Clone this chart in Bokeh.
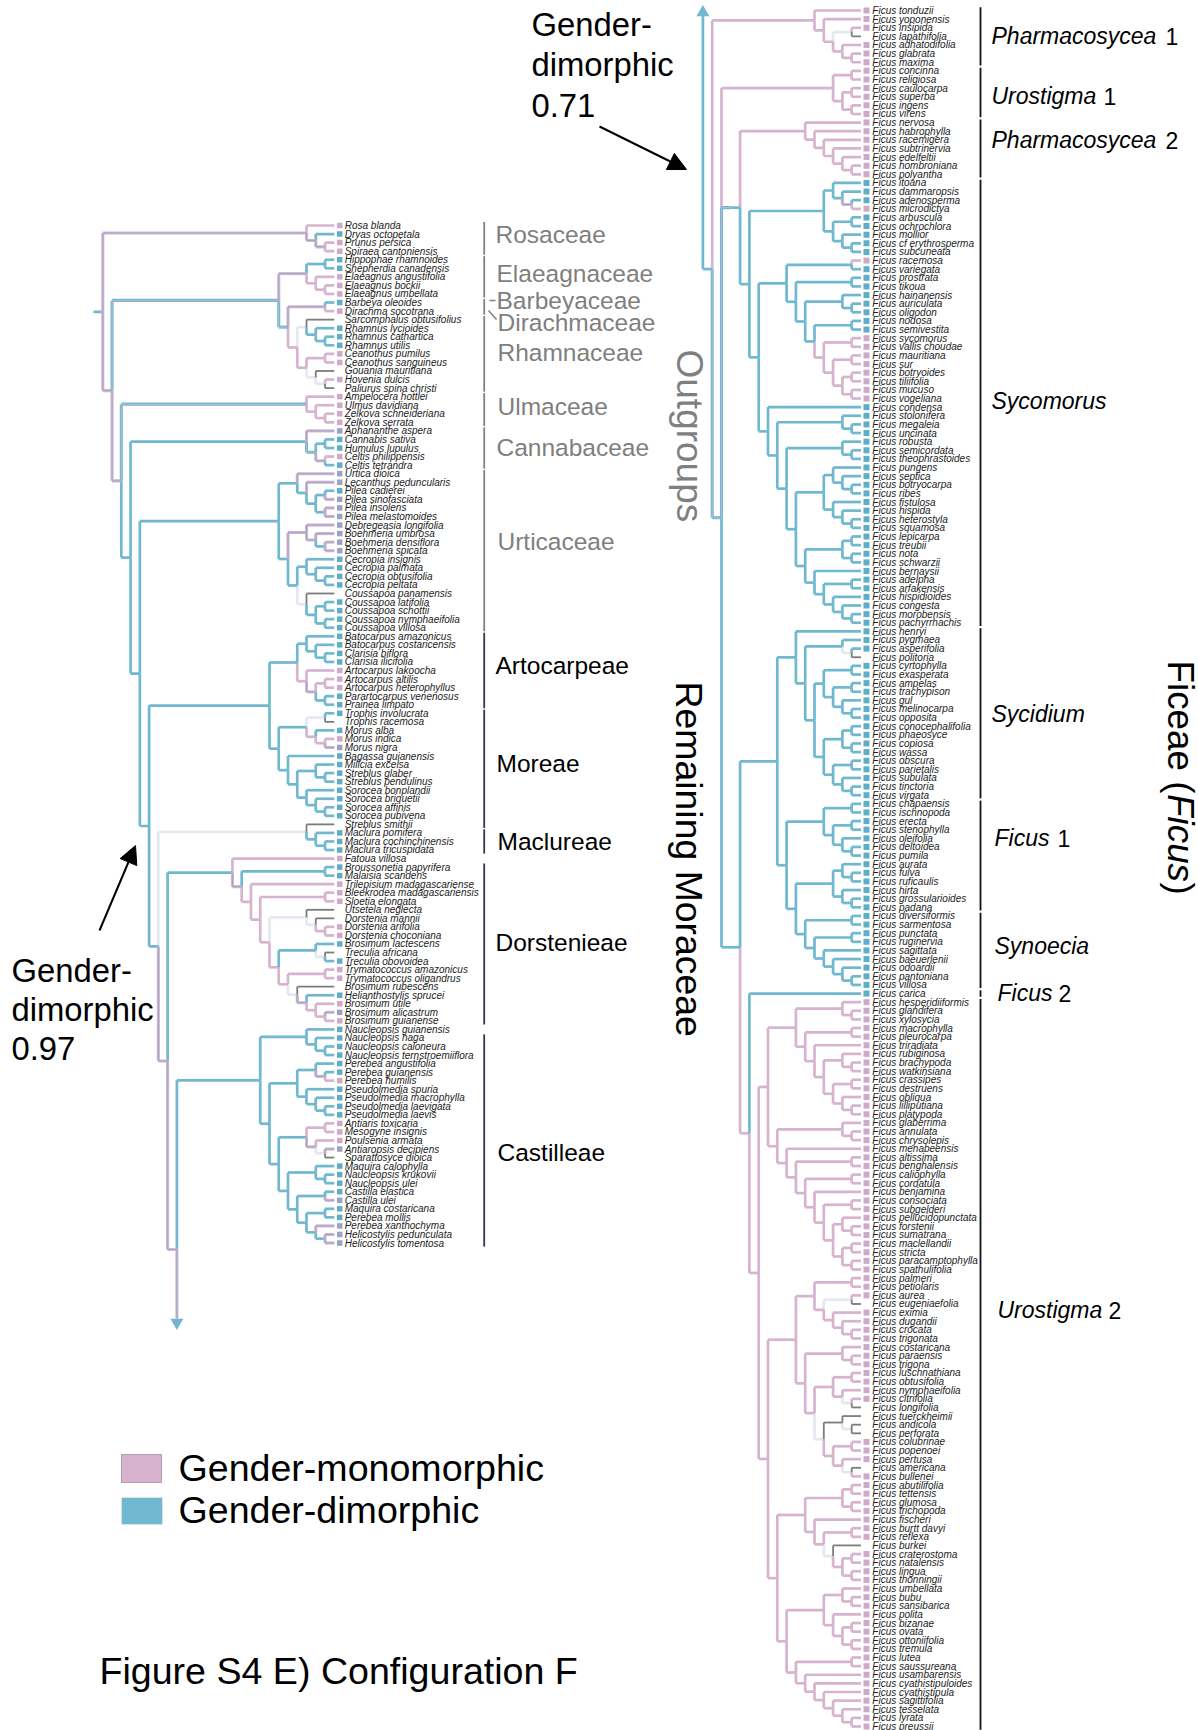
from math import pi
import numpy as np
from bokeh.plotting import figure
from bokeh.models import Range1d, Arrow, NormalHead
from bokeh.core.properties import value
from bokeh.embed import file_html
from bokeh.resources import INLINE

# ---------- DATA: trees (tip|state, node suffix: state, ^min height, #fixed y) ----------
# states: m monomorphic, d dimorphic, x pink/blue, y blue/pink, n pale (uncertain), g grey (no data)
ROSACEAE = "(Rosa blanda|m,(Dryas octopetala|d,(Prunus persica|m,Spiraea cantoniensis|m)x)x)x"
ELAEAG_RHAMN = ("(((Hippophae rhamnoides|d,Shepherdia canadensis|d),(Elaeagnus angustifolia|m,(Elaeagnus bockii|m,Elaeagnus umbellata|m)))x,"
                "((Barbeya oleoides|d,Dirachma socotrana|m)x,((Sarcomphalus obtusifolius|g,(Rhamnus lycioides|d,(Rhamnus cathartica|d,Rhamnus utilis|d)))n,"
                "((Ceanothus pumilus|m,Ceanothus sanguineus|m),(Gouania mauritiana|g,(Hovenia dulcis|m,Paliurus spina christi|g)n)n)m)m)y)y")
ULMACEAE = "(Ampelocera hottlei|m,(Ulmus davidiana|m,(Zelkova schneideriana|m,Zelkova serrata|m)))y"
CANNABACEAE = "(Aphananthe aspera|x,((Cannabis sativa|d,Humulus lupulus|d),(Celtis philippensis|m,Celtis tetrandra|d)x)y)d"
URTICACEAE = ("((Urtica dioica|x,(Lecanthus peduncularis|x,((Pilea cadierei|d,Pilea sinofasciata|x)d,(Pilea insolens|x,Pilea melastomoides|x)d)d)d)d,"
              "((Debregeasia longifolia|x,(Boehmeria umbrosa|x,(Boehmeria densiflora|x,Boehmeria spicata|x)d)x)x,"
              "((Cecropia insignis|d,(Cecropia palmata|d,(Cecropia obtusifolia|d,Cecropia peltata|d))),"
              "(Coussapoa panamensis|g,((Coussapoa latifolia|d,Coussapoa schottii|d),(Coussapoa nymphaeifolia|d,Coussapoa villosa|d)))n)d)d)d")
ARTO_MOREAE = ("(((Batocarpus amazonicus|d,(Batocarpus costaricensis|d,(Clarisia biflora|d,Clarisia ilicifolia|d))),"
               "(Artocarpus lakoocha|m,((Artocarpus altilis|m,Artocarpus heterophyllus|m),(Parartocarpus venenosus|d,Prainea limpato|d))x)m)d,"
               "(((Trophis involucrata|d,Trophis racemosa|g)n,(Morus alba|d,(Morus indica|m,Morus nigra|x)m)m)d,"
               "(Bagassa guianensis|d,((Milicia excelsa|d,(Streblus glaber|d,Streblus pendulinus|d)),"
               "(Sorocea bonplandii|d,(Sorocea briquetii|d,(Sorocea affinis|d,Sorocea pubivena|d))))))d)d")
MACLUREAE = "(Streblus smithii|g,(Maclura pomifera|d,(Maclura cochinchinensis|d,Maclura tricuspidata|d)))n"
DORSTENIEAE = ("(Fatoua villosa|m,((Broussonetia papyrifera|d,Malaisia scandens|d),(Trilepisium madagascariense|m,((Bleekrodea madagascariensis|m,Sloetia elongata|m),"
               "((Utsetela neglecta|g,(Dorstenia mannii|g,(Dorstenia arifolia|m,Dorstenia choconiana|m)m)n)n,"
               "((Brosimum lactescens|d,(Treculia africana|g,Treculia obovoidea|d)n)d,"
               "((Trymatococcus amazonicus|m,Trymatococcus oligandrus|m),(Brosimum rubescens|g,(Helianthostylis sprucei|d,(Brosimum utile|m,(Brosimum alicastrum|x,Brosimum guianense|m)m)m)x)n)m)m)m)m)m)x)d")
CASTILLEAE = ("((Naucleopsis guianensis|d,(Naucleopsis naga|d,(Naucleopsis caloneura|d,Naucleopsis ternstroemiiflora|d))),"
              "(((Perebea angustifolia|d,(Perebea guianensis|d,Perebea humilis|m)x)d,(Pseudolmedia spuria|d,(Pseudolmedia macrophylla|d,(Pseudolmedia laevigata|d,Pseudolmedia laevis|d))))d,"
              "(((Antiaris toxicaria|m,Mesogyne insignis|m)m,(Poulsenia armata|m,(Antiaropsis decipiens|x,Sparattosyce dioica|g)n)x)d,"
              "((Maquira calophylla|d,(Naucleopsis krukovii|d,Naucleopsis ulei|d)),((Castilla elastica|d,Castilla ulei|x)d,"
              "((Maquira costaricana|d,Perebea mollis|d),(Perebea xanthochyma|x,(Helicostylis pedunculata|x,Helicostylis tomentosa|x)d)d)d)d)d)d)d)d")
LEFT_TREE = (f"({ROSACEAE},({ELAEAG_RHAMN},({ULMACEAE},({CANNABACEAE},({URTICACEAE},({ARTO_MOREAE},({MACLUREAE},"
             f"({DORSTENIEAE},({CASTILLEAE})x^17#1249)x)d)d)d)d)x)x)y")

PHARM1 = ("(tonduzii|m,(yoponensis|m,((insipida|m,lapathifolia|g)n,(adhatodifolia|m,(glabrata|m,maxima|m)))m))m")
URO1 = "((concinna|m,religiosa|m),((caulocarpa|m,superba|m),(ingens|m,virens|m)))m"
PHARM2 = "(nervosa|m,(habrophylla|m,(racemigera|m,(subtrinervia|m,(edelfeltii|m,(hombroniana|m,polyantha|m))))))m"
SYCO_A = ("((itoana|d,(dammaropsis|d,(adenosperma|d,microdictya|m)x)d)d,((arbuscula|d,ochrochlora|d),(mollior|d,(cf erythrosperma|d,subcuneata|d))))d")
SYCO_B = ("((racemosa|m,variegata|d)d,((prostrata|d,tikoua|d),((hainanensis|d,(auriculata|d,oligodon|d)),((nodosa|d,semivestita|d),"
          "((sycomorus|m,vallis choudae|m),((mauritiana|m,sur|m),((botryoides|m,tiliifolia|m),(mucuso|m,vogeliana|m))))m)d)d)d)d")
SYCO_C = ("(condensa|d,((stolonifera|d,(megaleia|d,uncinata|d)),((robusta|d,(semicordata|d,theophrastoides|d)),"
          "(((pungens|d,(septica|d,(botryocarpa|d,ribes|d))),(fistulosa|d,(hispida|d,(heterostyla|d,squamosa|d)))),"
          "(((lepicarpa|d,treubii|d),(nota|d,schwarzii|d)),(bernaysii|d,((adelpha|d,arfakensis|d),(hispidioides|d,(congesta|d,(morobensis|d,pachyrrhachis|d)))))))))))")
SYCOMORUS = f"({SYCO_A},({SYCO_B},{SYCO_C})d)d"
SYCIDIUM = ("(henryi|d,((pygmaea|d,(asperifolia|d,politoria|g)n)d,(((cyrtophylla|d,exasperata|d),((ampelas|d,trachypison|d),(gul|d,(melinocarpa|d,opposita|d)))),"
            "(((conocephalifolia|d,phaeosyce|d),(copiosa|d,wassa|d)),((obscura|d,parietalis|d),(subulata|d,(tinctoria|d,virgata|d)))))))")
FICUS_SYN = ("(((chapaensis|d,ischnopoda|d),((erecta|d,stenophylla|d),(oleifolia|d,(deltoidea|d,pumila|d)))),"
             "(((aurata|d,(fulva|d,ruficaulis|d)),(hirta|d,(grossularioides|d,padana|d))),"
             "((diversiformis|d,sarmentosa|d),((punctata|d,ruginervia|d),(sagittata|d,(baeuerlenii|d,(odoardii|d,(pantoniana|d,villosa|d))))))))")
URO2_A = ("((hesperidiiformis|m,(glandifera|m,xylosycia|m)),((macrophylla|m,pleurocarpa|m),(triradiata|m,((rubiginosa|m,(brachypoda|m,watkinsiana|m)),"
          "((crassipes|m,destruens|m),(obliqua|m,(lilliputiana|m,platypoda|m)))))))")
URO2_B = ("((glaberrima|m,(annulata|m,chrysolepis|m)),(menabeensis|m,((altissima|m,benghalensis|m),((caliophylla|m,cordatula|m),(benjamina|m,"
          "((consociata|m,subgelderi|m),((pellucidopunctata|m,(forstenii|m,sumatrana|m)),((maclellandii|m,stricta|m),(paracamptophylla|m,spathulifolia|m)))))))))")
URO2_C = ("(((palmeri|m,petiolaris|m),((aurea|m,eugeniaefolia|g)n,(eximia|m,(dugandii|m,(crocata|m,trigonata|m))))m)m,"
          "((costaricana|m,(paraensis|m,trigona|m)),(((luschnathiana|m,obtusifolia|m),(nymphaeifolia|m,(citrifolia|m,longifolia|g)n)m)m,"
          "((tuerckheimii|g,(andicola|g,perforata|g))g,((colubrinae|m,popenoei|m),(pertusa|m,(americana|g,bullenei|m)n)m)m)n)m)m)")
URO2_D = ("(((((abutilifolia|m,tettensis|m),(glumosa|m,trichopoda|m)),(fischeri|m,((burtt davyi|m,reflexa|m),(burkei|g,((craterostoma|m,natalensis|m),(lingua|m,thonningii|m)))n)m)),"
          "(((umbellata|m,(bubu|m,sansibarica|m)),(polita|m,((bizanae|m,ovata|m),(ottoniifolia|m,tremula|m)))),"
          "((lutea|m,saussureana|m),(usambarensis|m,(cyathistipuloides|m,(cyathistipula|m,(sagittifolia|m,(tesselata|m,(lyrata|m,preussii|m)))))))))))")
RIGHT_TREE = (f"({PHARM1},({URO1},(({PHARM2},{SYCOMORUS})y,(({SYCIDIUM},{FICUS_SYN})d,"
              f"(carica|d,(({URO2_A},{URO2_B})m,({URO2_C},{URO2_D[1:-1]})m)m)d)y)x)x)x")

# clade bars: first tip, last tip, colour group
LEFT_BARS = [("Rosa blanda", "Spiraea cantoniensis", "f"), ("Hippophae rhamnoides", "Elaeagnus umbellata", "f"),
             ("Barbeya oleoides", "Dirachma socotrana", "f"), ("Sarcomphalus obtusifolius", "Paliurus spina christi", "f"),
             ("Ampelocera hottlei", "Zelkova serrata", "f"), ("Aphananthe aspera", "Celtis tetrandra", "f"),
             ("Urtica dioica", "Coussapoa villosa", "f"), ("Batocarpus amazonicus", "Prainea limpato", "t"),
             ("Trophis involucrata", "Streblus smithii", "t"), ("Maclura pomifera", "Maclura tricuspidata", "t"),
             ("Broussonetia papyrifera", "Brosimum guianense", "t"), ("Naucleopsis naga", "Helicostylis tomentosa", "t")]
RIGHT_BARS = [("tonduzii", "maxima"), ("concinna", "virens"), ("nervosa", "polyantha"), ("itoana", "pachyrrhachis"),
              ("henryi", "virgata"), ("chapaensis", "padana"), ("diversiformis", "villosa"), ("carica", "carica"),
              ("hesperidiiformis", "preussii")]

# text labels
FAMILY_LABELS = ["Rosaceae", "Elaeagnaceae", "Barbeyaceae", "Dirachmaceae", "Rhamnaceae", "Ulmaceae", "Cannabaceae", "Urticaceae"]
FAMILY_X = [495, 496, 496, 497, 497, 497, 496, 497]
FAMILY_Y = [243, 282, 309, 331, 361, 415, 456, 550]
TRIBE_LABELS = ["Artocarpeae", "Moreae", "Maclureae", "Dorstenieae", "Castilleae"]
TRIBE_X = [495, 496, 497, 495, 497]
TRIBE_Y = [674, 772, 850, 951, 1161]
SECTION_LABELS = ["Pharmacosycea", "Urostigma", "Pharmacosycea", "Sycomorus", "Sycidium", "Ficus", "Synoecia", "Ficus", "Urostigma"]
SECTION_X = [991, 991, 991, 991, 991, 994, 994, 997, 997]
SECTION_Y = [44, 104, 148, 409, 722, 846, 954, 1001, 1318]
SECTION_NUM = ["1", "1", "2", "1", "2", "2"]
SECTION_NUM_X = [1165, 1103, 1165, 1057, 1058, 1108]
SECTION_NUM_Y = [44, 104, 148, 846, 1001, 1318]

PINK, BLUE, PALE, GREY = "#d6b3cf", "#6fb8d0", "#e4e8f1", "#7c7c7c"
FONT = "Liberation Sans"

# ---------- tree parsing / layout ----------
class Node:
    def __init__(self):
        self.kids, self.state, self.name, self.minh, self.fixy = [], None, None, 0, None

def parse(s):
    pos = 0
    def rec():
        nonlocal pos
        n = Node()
        if s[pos] == "(":
            pos += 1
            while True:
                n.kids.append(rec())
                if s[pos] == ",":
                    pos += 1
                    continue
                pos += 1
                break
            st = pos
            while pos < len(s) and s[pos] not in ",)":
                pos += 1
            suf = s[st:pos]
            if "#" in suf:
                suf, fy = suf.split("#")
                n.fixy = float(fy)
            if "^" in suf:
                suf, mh = suf.split("^")
                n.minh = int(mh)
            n.state = suf or None
        else:
            st = pos
            while s[pos] not in ",)":
                pos += 1
            n.name, n.state = s[st:pos].split("|")
        return n
    return rec()

def infer(n):
    for k in n.kids:
        infer(k)
    if n.kids and n.state is None:
        st = {k.state for k in n.kids} - {"g", "n"}
        if len(st) == 1:
            n.state = st.pop()
        elif not st:
            n.state = "n"
        else:
            n.state = "x"

def tips(n):
    return [n] if not n.kids else [t for k in n.kids for t in tips(k)]

def layout(n):
    if n.kids:
        for k in n.kids:
            layout(k)
        n.h = max(n.minh, 1 + max(k.h for k in n.kids))
        n.y = n.fixy if n.fixy is not None else (n.kids[0].y + n.kids[-1].y) / 2
    else:
        n.h = 0

segs = {s: ([], [], [], []) for s in "ndmxyg"}
def collect(n, col):
    for k in n.kids:
        px, cx = col(n.h), col(k.h)
        a = segs[k.state]
        a[0].extend([px, px]); a[1].extend([n.y, k.y]); a[2].extend([px, cx]); a[3].extend([k.y, k.y])
        collect(k, col)

left = parse(LEFT_TREE); right = parse(RIGHT_TREE)
infer(left); infer(right)
ltips, rtips = tips(left), tips(right)
names_l = [t.name for t in ltips]
iT = names_l.index("Trophis involucrata")
ly = np.interp(np.arange(len(ltips)), [0, iT, len(ltips) - 1], [225, 712.8, 1242.5])
ry = np.linspace(10, 1726, len(rtips))
for t, y in zip(ltips, ly):
    t.y = float(y)
for t, y in zip(rtips, ry):
    t.y = float(y)
layout(left); layout(right)
LTIP, LSTEP = 333.8, 9.26
RTIP, RSTEP = 860.5, 9.3
lcol = lambda h: LTIP - LSTEP * h
rcol = lambda h: RTIP - RSTEP * h
collect(left, lcol); collect(right, rcol)
# root stems and arrows
a = segs["d"]
a[0].append(lcol(left.h + 1)); a[1].append(left.y); a[2].append(lcol(left.h)); a[3].append(left.y)
a[0].append(rcol(right.h + 1)); a[1].append(right.y); a[2].append(rcol(right.h)); a[3].append(right.y)
a[0].append(rcol(right.h + 1)); a[1].append(right.y); a[2].append(rcol(right.h + 1)); a[3].append(14)
ax = lcol(17)
b = segs["x"]
b[0].append(ax); b[1].append(1249); b[2].append(ax); b[3].append(1318)

# ---------- figure ----------
p = figure(width=1198, height=1730, output_backend="svg", toolbar_location=None,
           x_range=Range1d(0, 1198), y_range=Range1d(1730, 0), min_border=0)
p.axis.visible = False
p.grid.visible = False
p.outline_line_color = None

W = 2.7
p.segment(*segs["n"], line_color=PALE, line_width=W)
p.segment(*segs["g"], line_color=GREY, line_width=W - 0.9)
p.segment(*segs["m"], line_color=PINK, line_width=W)
p.segment(*segs["d"], line_color=BLUE, line_width=W)
p.segment(*segs["x"], line_color=PINK, line_width=W + 0.4)
p.segment(*segs["x"], line_color="#86a9c6", line_width=0.8)
p.segment(*segs["y"], line_color=BLUE, line_width=W + 0.4)
p.segment(*segs["y"], line_color="#cfb6d2", line_width=0.8)
p.scatter([ax], [1322], marker="inverted_triangle", size=13, color=BLUE, line_color=None)
p.scatter([rcol(right.h + 1)], [12], marker="triangle", size=13, color=BLUE, line_color=None)

TIPFILL = {"m": "#cfa9c9", "d": "#5fadc7", "x": "#9aa3c6"}
for tl, tipx, boxx, txtx, sz, prefix in [(ltips, LTIP, 339.2, 344.2, 5.5, ""), (rtips, RTIP, 866, 871.8, 6, "Ficus ")]:
    boxed = [t for t in tl if t.state != "g"]
    p.rect([boxx] * len(boxed), [t.y for t in boxed], width=sz, height=sz,
           fill_color=[TIPFILL[t.state] for t in boxed], line_color=None)
    p.text([txtx] * len(tl), [t.y for t in tl], text=[prefix + t.name for t in tl], text_font=value(FONT),
           text_font_style="italic", text_font_size="10px", text_color="#1c1c1c",
           text_align="left", text_baseline="middle")

# clade bars
ynm = dict(zip(names_l, ly))
rnm = dict(zip([t.name for t in rtips], ry))
for f, l, g in LEFT_BARS:
    p.segment(483.7, ynm[f] - 3.6, 483.7, ynm[l] + 3.6, line_color="#808080" if g == "f" else "#3d3050", line_width=1.8)
for f, l in RIGHT_BARS:
    p.segment(980, rnm[f] - 3.2, 980, rnm[l] + 3.2, line_color="#111111", line_width=1.8)
p.segment([489, 488], [300, 310], [495, 496], [300, 319], line_color="#808080", line_width=1.5)

def txt(xs, ys, labels, size, color="#000000", style="normal", angle=0.0):
    # the svg text sits about a third of an em below the requested baseline
    off = 0.36 * size
    if angle:
        xs = [x + off for x in xs]
    else:
        ys = [y - off for y in ys]
    p.text(xs, ys, text=labels, text_font=value(FONT), text_font_size=f"{size}px", text_color=color,
           text_font_style=style, text_align="left", text_baseline="alphabetic", angle=angle)

txt(FAMILY_X, FAMILY_Y, FAMILY_LABELS, 24.5, "#7f7f7f")
txt(TRIBE_X, TRIBE_Y, TRIBE_LABELS, 24.5)
txt(SECTION_X, SECTION_Y, SECTION_LABELS, 23, "#000000", "italic")
txt(SECTION_NUM_X, SECTION_NUM_Y, SECTION_NUM, 23)
txt([676], [349], ["Outgroups"], 37, "#7f7f7f", angle=-pi / 2)
txt([675], [681], ["Remaining Moraceae"], 37.4, angle=-pi / 2)
txt([1167], [660], ["Ficeae ("], 36.8, angle=-pi / 2)
txt([1167], [793.6], ["Ficus"], 36.8, style="italic", angle=-pi / 2)
txt([1167], [882], [")"], 36.8, angle=-pi / 2)
txt([531, 531, 531], [36, 76, 117], ["Gender-", "dimorphic", "0.71"], 32.8)
txt([11, 11, 11], [982, 1021, 1060], ["Gender-", "dimorphic", "0.97"], 32.8)
txt([178, 178], [1481, 1523], ["Gender-monomorphic", "Gender-dimorphic"], 37.6)
txt([99], [1684], ["Figure S4 E) Configuration F"], 37.6)

p.quad(left=[121, 121], right=[161, 162], top=[1454, 1497], bottom=[1482, 1524],
       fill_color=["#d8b3d0", "#6fb8d0"], line_color=["#b39bb0", "#d8e4ea"], line_width=1)

for x0, y0, x1, y1 in [(599, 126, 686, 169), (99, 930, 135, 845)]:
    p.add_layout(Arrow(x_start=x0, y_start=y0, x_end=x1, y_end=y1, line_color="#000000", line_width=2,
                       end=NormalHead(size=18, fill_color="#000000", line_color="#000000")))

open("out.html", "w").write(file_html(p, INLINE))
